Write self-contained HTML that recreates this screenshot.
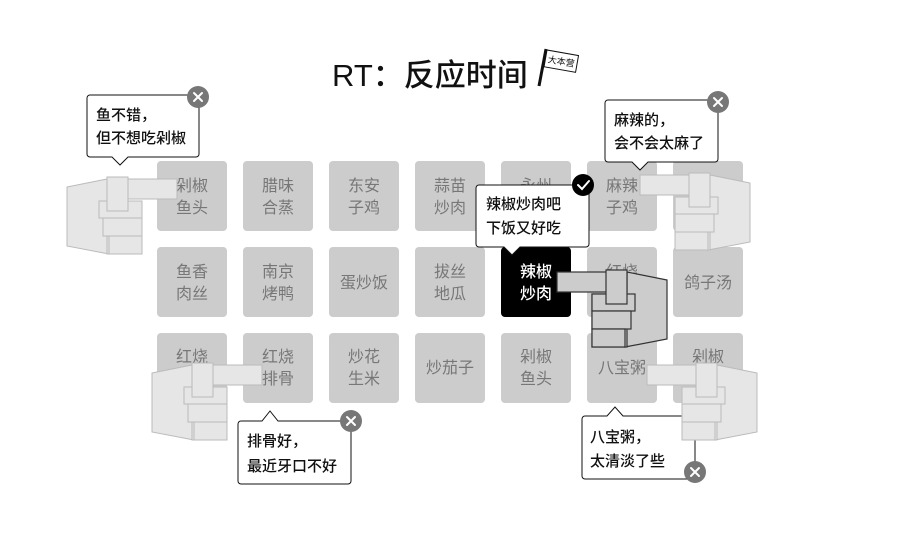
<!DOCTYPE html>
<html><head><meta charset="utf-8"><style>
html,body{margin:0;padding:0;background:#fff;}
svg{display:block;}
text{font-family:"Liberation Sans","Noto Sans CJK SC",sans-serif;}
.t{fill:#777;font-size:16px;text-anchor:middle;}
.b{fill:#111;font-size:15px;font-weight:500;}
</style></head><body>
<svg width="900" height="546" viewBox="0 0 900 546" xmlns="http://www.w3.org/2000/svg">
<defs>
<g id="hand">
  <polygon points="0,10 40,2 42,77 0,69"/>
  <rect x="40" y="24" width="35" height="53"/>
  <rect x="40" y="2" width="70" height="20"/>
  <rect x="32" y="24" width="43" height="17"/>
  <rect x="36" y="41" width="39" height="18"/>
  <rect x="42" y="59" width="33" height="18"/>
  <rect x="40" y="0" width="21" height="34"/>
</g>
</defs>
<!-- title -->
<text x="332" y="86" font-size="31" fill="#111" font-weight="500">RT：反应时间</text>
<line x1="539" y1="86" x2="546" y2="49" stroke="#111" stroke-width="3"/>
<g transform="translate(547,50) rotate(10)">
<rect x="0" y="0" width="32" height="17" fill="#fff" stroke="#111" stroke-width="1"/>
<text x="16" y="12" font-size="9" fill="#111" text-anchor="middle">大本营</text>
</g>
<!-- tiles -->
<g fill="#ccc">
<rect x="157" y="161" width="70" height="70" rx="4"/><rect x="243" y="161" width="70" height="70" rx="4"/><rect x="329" y="161" width="70" height="70" rx="4"/><rect x="415" y="161" width="70" height="70" rx="4"/><rect x="501" y="161" width="70" height="70" rx="4"/><rect x="587" y="161" width="70" height="70" rx="4"/><rect x="673" y="161" width="70" height="70" rx="4"/>
<rect x="157" y="247" width="70" height="70" rx="4"/><rect x="243" y="247" width="70" height="70" rx="4"/><rect x="329" y="247" width="70" height="70" rx="4"/><rect x="415" y="247" width="70" height="70" rx="4"/><rect x="587" y="247" width="70" height="70" rx="4"/><rect x="673" y="247" width="70" height="70" rx="4"/>
<rect x="157" y="333" width="70" height="70" rx="4"/><rect x="243" y="333" width="70" height="70" rx="4"/><rect x="329" y="333" width="70" height="70" rx="4"/><rect x="415" y="333" width="70" height="70" rx="4"/><rect x="501" y="333" width="70" height="70" rx="4"/><rect x="587" y="333" width="70" height="70" rx="4"/><rect x="673" y="333" width="70" height="70" rx="4"/>
</g>
<rect x="501" y="247" width="70" height="70" rx="4" fill="#000"/>
<g class="t">
<text x="192" y="191">剁椒</text><text x="192" y="213">鱼头</text>
<text x="278" y="191">腊味</text><text x="278" y="213">合蒸</text>
<text x="364" y="191">东安</text><text x="364" y="213">子鸡</text>
<text x="450" y="191">蒜苗</text><text x="450" y="213">炒肉</text>
<text x="536" y="191">永州</text>
<text x="622" y="191">麻辣</text><text x="622" y="213">子鸡</text>
<text x="192" y="277">鱼香</text><text x="192" y="299">肉丝</text>
<text x="278" y="277">南京</text><text x="278" y="299">烤鸭</text>
<text x="364" y="288">蛋炒饭</text>
<text x="450" y="277">拔丝</text><text x="450" y="299">地瓜</text>
<text x="622" y="277">红烧</text>
<text x="708" y="288">鸽子汤</text>
<text x="192" y="362">红烧</text>
<text x="278" y="362">红烧</text><text x="278" y="384">排骨</text>
<text x="364" y="362">炒花</text><text x="364" y="384">生米</text>
<text x="450" y="373">炒茄子</text>
<text x="536" y="362">剁椒</text><text x="536" y="384">鱼头</text>
<text x="622" y="373">八宝粥</text>
<text x="708" y="362">剁椒</text>
</g>
<text x="536" y="277" fill="#fff" font-size="16" text-anchor="middle" font-weight="500">辣椒</text>
<text x="536" y="299" fill="#fff" font-size="16" text-anchor="middle" font-weight="500">炒肉</text>
<!-- hands -->
<g fill="#e6e6e6" stroke="#bbb" stroke-width="1">
<use href="#hand" transform="translate(67,177)"/>
<use href="#hand" transform="translate(750,173) scale(-1,1)"/>
<use href="#hand" transform="translate(152,363)"/>
</g>
<g fill="#ccc" stroke="#333" stroke-width="1.2">
<use href="#hand" transform="translate(667,270) scale(-1,1)"/>
</g>
<!-- bubbles -->
<g fill="#fff" stroke="#111" stroke-width="1">
<path d="M91,95 H196 a3,3 0 0 1 3,3 V154 a3,3 0 0 1 -3,3 H128 L120,165 L112,157 H90 a3,3 0 0 1 -3,-3 V98 a3,3 0 0 1 3,-3 Z"/>
<path d="M608,100 H715 a3,3 0 0 1 3,3 V159 a3,3 0 0 1 -3,3 H648 L640,170 L632,162 H608 a3,3 0 0 1 -3,-3 V103 a3,3 0 0 1 3,-3 Z"/>
<path d="M479,185 H586 a3,3 0 0 1 3,3 V244 a3,3 0 0 1 -3,3 H520 L512,255 L504,247 H479 a3,3 0 0 1 -3,-3 V188 a3,3 0 0 1 3,-3 Z"/>
<path d="M241,421 H262 L270,411 L278,421 H348 a3,3 0 0 1 3,3 V481 a3,3 0 0 1 -3,3 H241 a3,3 0 0 1 -3,-3 V424 a3,3 0 0 1 3,-3 Z"/>
<path d="M585,416 H607 L615,407 L623,416 H692 a3,3 0 0 1 3,3 V476 a3,3 0 0 1 -3,3 H585 a3,3 0 0 1 -3,-3 V419 a3,3 0 0 1 3,-3 Z"/>
</g>
<g class="b">
<text x="96" y="120">鱼不错，</text><text x="96" y="143">但不想吃剁椒</text>
<text x="614" y="125">麻辣的，</text><text x="614" y="148">会不会太麻了</text>
<text x="486" y="209">辣椒炒肉吧</text><text x="486" y="233">下饭又好吃</text>
<text x="247" y="446">排骨好，</text><text x="247" y="471">最近牙口不好</text>
<text x="590" y="442">八宝粥，</text><text x="590" y="466">太清淡了些</text>
</g>
<g fill="#e6e6e6" stroke="#bbb" stroke-width="1">
<use href="#hand" transform="translate(757,363) scale(-1,1)"/>
</g>
<!-- close buttons -->
<g stroke="#fff" stroke-width="2" stroke-linecap="round">
<circle cx="198" cy="97" r="11" fill="#777" stroke="none"/><path d="M194,93 L202,101 M202,93 L194,101"/>
<circle cx="718" cy="102" r="11" fill="#777" stroke="none"/><path d="M714,98 L722,106 M722,98 L714,106"/>
<circle cx="351" cy="421" r="11" fill="#777" stroke="none"/><path d="M347,417 L355,425 M355,417 L347,425"/>
<circle cx="695" cy="472" r="11" fill="#777" stroke="none"/><path d="M691,468 L699,476 M699,468 L691,476"/>
<circle cx="583" cy="185" r="11" fill="#000" stroke="none"/><path d="M578,185 L582,189 L589,181" fill="none"/>
</g>
</svg>
</body></html>
